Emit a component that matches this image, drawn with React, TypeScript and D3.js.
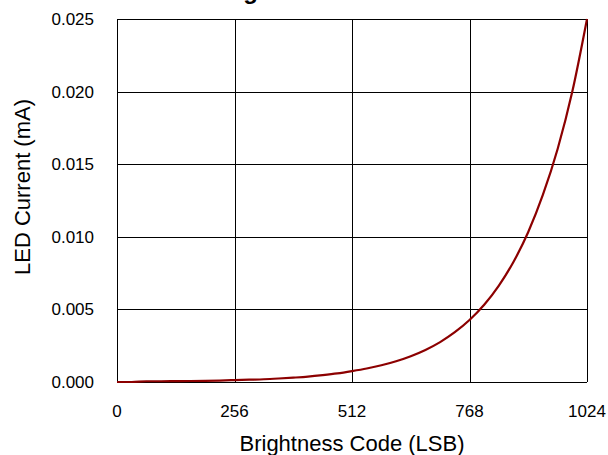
import React, { useEffect } from 'react';
import * as d3 from 'd3';

// brightness code (LSB) vs LED current (mA)
const codes = [0, 32, 64, 96, 128, 160, 192, 224, 256, 288, 320, 352, 384, 416, 448, 480, 512,
  544, 576, 608, 640, 672, 704, 736, 768, 800, 832, 864, 896, 928, 960, 992, 1024];
const current = [0.0, 0.0, 0.00005, 0.00005, 0.00006, 0.00007, 0.00008, 0.0001, 0.00013, 0.00016,
  0.00019, 0.00024, 0.0003, 0.00037, 0.00047, 0.00059, 0.00075, 0.00093, 0.00115, 0.00143, 0.00178,
  0.00221, 0.00275, 0.00343, 0.00427, 0.00532, 0.00664, 0.00828, 0.01033, 0.0129, 0.01605, 0.02, 0.025];

const xTicks = [0, 256, 512, 768, 1024];
const yTicks = [0, 0.005, 0.01, 0.015, 0.02, 0.025];

const title = 'Brightness Curve';
const xTitle = 'Brightness Code (LSB)';
const yTitle = 'LED Current (mA)';

const W = 608;
const H = 455;
const m = { left: 117, right: 21, top: 19, bottom: 73 };
const font = '"Liberation Sans", Arial, Helvetica, sans-serif';

const App: React.FC = () => {
  useEffect(() => {
    document.body.style.margin = '0';
  }, []);

  const x = d3.scaleLinear().domain([0, 1024]).range([m.left, W - m.right]);
  const y = d3.scaleLinear().domain([0, 0.025]).range([H - m.bottom, m.top]);

  const pts = codes.map((c, i) => ({ c, v: current[i] }));
  const line = d3
    .line<{ c: number; v: number }>()
    .x((d) => x(d.c))
    .y((d) => y(d.v))
    .curve(d3.curveMonotoneX);

  const px = (v: number) => Math.round(v) + 0.5;

  return (
    <svg width={W} height={H} style={{ display: 'block' }} fontFamily={font}>
      <rect width={W} height={H} fill="#fff" />
      <text x={310} y={-1} textAnchor="middle" fontSize={24} fontWeight="bold">
        {title}
      </text>

      {/* grid */}
      {xTicks.map((t) => (
        <line key={'gx' + t} x1={px(x(t))} x2={px(x(t))} y1={y(0)} y2={y(0.025)} stroke="#000" strokeWidth={1} />
      ))}
      {yTicks.map((t) => (
        <line key={'gy' + t} x1={x(0)} x2={x(1024)} y1={px(y(t))} y2={px(y(t))} stroke="#000" strokeWidth={1} />
      ))}

      <path d={line(pts) || ''} fill="none" stroke="#8c0000" strokeWidth={2.2} strokeLinejoin="round" />

      {/* tick labels */}
      {xTicks.map((t) => (
        <text key={'tx' + t} x={x(t)} y={417} textAnchor="middle" fontSize={17}>
          {t}
        </text>
      ))}
      {yTicks.map((t) => (
        <text key={'ty' + t} x={94} y={y(t) + 6} textAnchor="end" fontSize={17}>
          {d3.format('.3f')(t)}
        </text>
      ))}

      <text x={(x(0) + x(1024)) / 2} y={451} textAnchor="middle" fontSize={22}>
        {xTitle}
      </text>
      <text transform={`translate(30, 187) rotate(-90)`} textAnchor="middle" fontSize={22}>
        {yTitle}
      </text>
    </svg>
  );
};

export default App;
